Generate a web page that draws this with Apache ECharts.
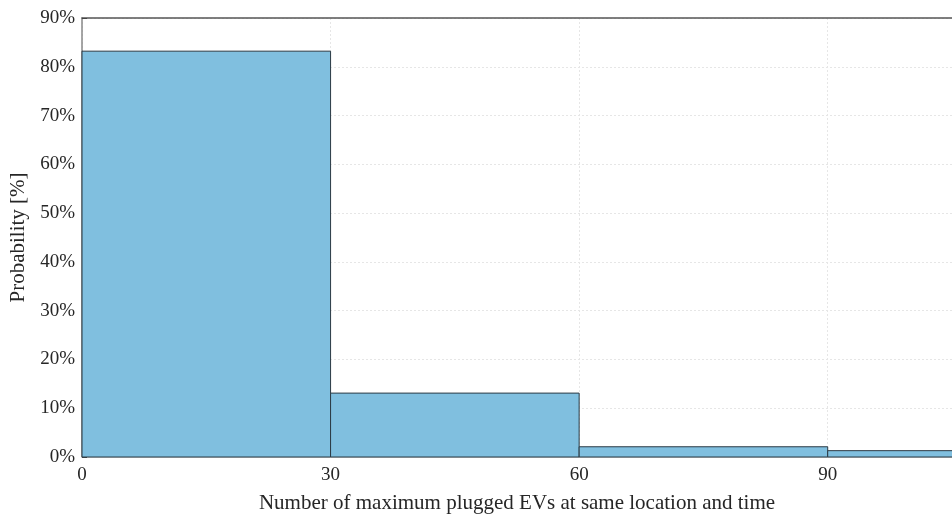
<!DOCTYPE html>
<html>
<head>
<meta charset="utf-8">
<script src="https://cdn.jsdelivr.net/npm/echarts@6/dist/echarts.min.js"></script>
<style>
  html, body { margin: 0; padding: 0; background: #fff; }
  #chart { width: 952px; height: 519px; }
</style>
</head>
<body>
<div id="chart"></div>
<script>
// histogram bins (edges) and probability per bin [%]
const binEdges = [0, 30, 60, 90, 120];
const probabilities = [83.2, 13.1, 2.1, 1.3];
const xTicks = [0, 30, 60, 90];
const yTicks = [0, 10, 20, 30, 40, 50, 60, 70, 80, 90];

const FONT = '"Liberation Serif", "Times New Roman", serif';

const histData = probabilities.map((p, i) => [binEdges[i], binEdges[i + 1], p]);

const chart = echarts.init(document.getElementById('chart'));

const option = {
  animation: false,
  grid: { left: 82, right: 0, top: 18, bottom: 62, containLabel: false, outerBoundsMode: 'none' },
  xAxis: [{
    type: 'value',
    min: 0,
    max: 105,
    interval: 30,
    name: 'Number of maximum plugged EVs at same location and time',
    nameLocation: 'middle',
    nameGap: 36,
    nameTextStyle: { fontFamily: FONT, fontSize: 21, color: '#262626' },
    axisLine: { lineStyle: { color: '#d0d0d0', width: 1 } },
    axisTick: { inside: true, length: 5, lineStyle: { color: '#444' } },
    axisLabel: {
      fontFamily: FONT, fontSize: 19, color: '#262626', margin: 9,
      showMaxLabel: false,
      formatter: v => (xTicks.indexOf(v) >= 0 ? String(v) : '')
    },
    splitLine: { show: true, lineStyle: { color: '#e6e6e6', type: [2, 2], width: 1 } }
  }, {
    type: 'value',
    position: 'top',
    min: 0,
    max: 105,
    interval: 30,
    axisLine: { show: true, lineStyle: { color: '#555', width: 1.5 } },
    axisTick: { show: false },
    axisLabel: { show: false },
    splitLine: { show: false }
  }],
  yAxis: {
    type: 'value',
    min: 0,
    max: 90,
    interval: 10,
    name: 'Probability [%]',
    nameLocation: 'middle',
    nameGap: 52,
    nameTextStyle: { fontFamily: FONT, fontSize: 21, color: '#262626' },
    axisLine: { show: true, lineStyle: { color: '#888', width: 1.5 } },
    axisTick: { show: true, inside: true, length: 5, lineStyle: { color: '#444' } },
    axisLabel: {
      fontFamily: FONT, fontSize: 19, color: '#262626', margin: 7,
      formatter: v => (yTicks.indexOf(v) >= 0 ? v + '%' : '')
    },
    splitLine: { show: true, lineStyle: { color: '#e6e6e6', type: [2, 2], width: 1 } }
  },
  series: [{
    type: 'custom',
    data: histData,
    encode: { x: [0, 1], y: 2 },
    renderItem: function (params, api) {
      const p0 = api.coord([api.value(0), api.value(2)]);
      const p1 = api.coord([api.value(1), 0]);
      const rect = echarts.graphic.clipRectByRect({
        x: p0[0], y: p0[1], width: p1[0] - p0[0], height: p1[1] - p0[1]
      }, {
        x: params.coordSys.x, y: params.coordSys.y,
        width: params.coordSys.width + 2, height: params.coordSys.height
      });
      return rect && {
        type: 'rect',
        shape: rect,
        style: { fill: '#80bfdf', stroke: '#2b3a44', lineWidth: 1 }
      };
    }
  }]
};

chart.setOption(option);
</script>
</body>
</html>
